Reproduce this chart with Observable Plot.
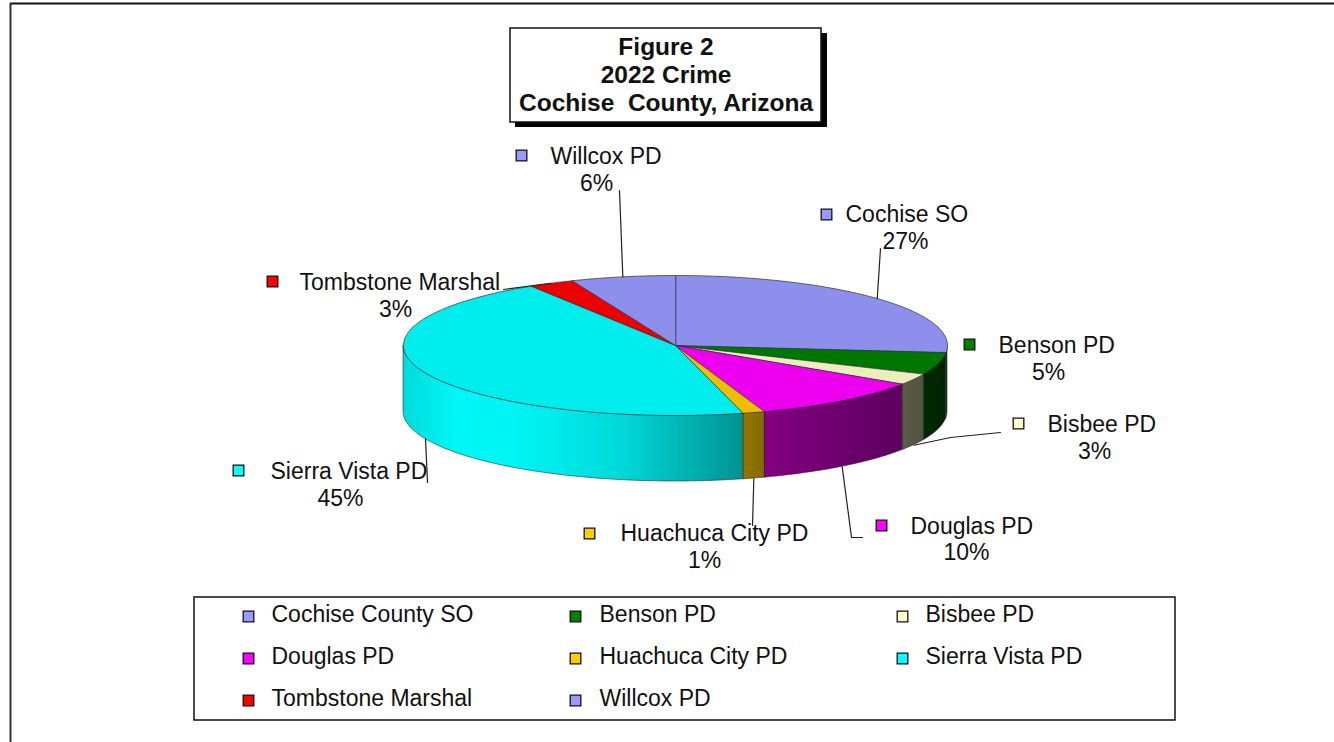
<!DOCTYPE html>
<html>
<head>
<meta charset="utf-8">
<style>html,body{margin:0;padding:0;background:#fff;overflow:hidden}svg{display:block}</style>
<script src="https://cdn.jsdelivr.net/npm/d3@7"></script>
<script src="https://cdn.jsdelivr.net/npm/@observablehq/plot@0.6"></script>
</head>
<body>
<div id="chart"></div>
<script>
// ---- data ----
const titleLines = ["Figure 2", "2022 Crime", "Cochise  County, Arizona"];
const sliceLabels = ["Cochise SO", "Benson PD", "Bisbee PD", "Douglas PD", "Huachuca City PD", "Sierra Vista PD", "Tombstone Marshal", "Willcox PD"];
const legendLabels = ["Cochise County SO", "Benson PD", "Bisbee PD", "Douglas PD", "Huachuca City PD", "Sierra Vista PD", "Tombstone Marshal", "Willcox PD"];
// shares estimated from the slice boundaries; the printed labels are these, rounded
const shares = [26.6, 5.1, 2.6, 10.4, 1.3, 45.1, 2.7, 6.2];
const colors = ["#9999ff", "#008000", "#ffffcc", "#ff00ff", "#ffcc00", "#00ffff", "#ff0000", "#9999ff"];

// ---- layout (pixels) ----
const W = 1334, H = 742;
const pie = {cx: 675, cy: 345, rx: 272, ry: 70, depth: 66};
const font = "Liberation Sans, Arial, sans-serif";
const labelFont = 23, ink = "#111";
const labelPos = [
  {sx: 826, sy: 214, tx: 845, ty: 214, px: 905, py: 241, knees: [[880, 248]]},
  {sx: 969, sy: 344, tx: 998, ty: 345, px: 1048, py: 372, knees: null},
  {sx: 1018, sy: 423, tx: 1047, ty: 424, px: 1094, py: 451, knees: [[1000, 432], [950, 437]]},
  {sx: 881, sy: 525, tx: 910, ty: 526, px: 966, py: 552, knees: [[862, 537], [851, 537]]},
  {sx: 589, sy: 533, tx: 620, ty: 533, px: 704, py: 560, knees: [[752, 525]]},
  {sx: 238, sy: 470, tx: 270, ty: 471, px: 340, py: 498, knees: [[427, 482]]},
  {sx: 272, sy: 281, tx: 299, ty: 282, px: 395, py: 309, knees: [[503, 289]]},
  {sx: 521, sy: 155, tx: 550, ty: 156, px: 596, py: 183, knees: [[619, 190]]}
];

// ---- geometry derived from the shares ----
const total = d3.sum(shares);
const rim = (deg) => {
  const a = deg * Math.PI / 180;
  return {x: pie.cx + pie.rx * Math.sin(a), y: pie.cy - pie.ry * Math.cos(a)};
};
const arcPts = (a0, a1) => {
  const n = Math.max(2, Math.ceil(a1 - a0) + 1);
  return d3.range(n).map(i => rim(a0 + (a1 - a0) * i / (n - 1)));
};
let acc = 0;
const slices = shares.map((v, i) => {
  const a0 = acc / total * 360; acc += v; const a1 = acc / total * 360;
  return {i, a0, a1, mid: (a0 + a1) / 2, color: colors[i]};
});
const scaleColor = (hex, k) => {
  const c = d3.rgb(hex);
  return d3.rgb(c.r * k, c.g * k, c.b * k).formatHex();
};
// brightness of the side wall, left to right
const sideStops = [[0, .86], [.1, .97], [.2, .96], [.4, .85], [.62, .58], [.67, .51], [.92, .36], [1, .27]];
const topShade = .93;

const topMarks = slices.map(s => {
  const pts = [{x: pie.cx, y: pie.cy}, ...arcPts(s.a0, s.a1)];
  return Plot.line(pts, {x: "x", y: "y", curve: "linear-closed", fill: scaleColor(s.color, topShade), stroke: "#2a2a3a", strokeWidth: .8, strokeOpacity: .85});
});
const sideMarks = slices.filter(s => s.a1 > 90 && s.a0 < 270).map(s => {
  const pts = arcPts(Math.max(s.a0, 90), Math.min(s.a1, 270)).map(p => ({...p, yb: p.y + pie.depth}));
  return Plot.area(pts, {x1: "x", y1: "y", y2: "yb", fill: `url(#side${s.i})`, stroke: "#222", strokeWidth: .7, strokeOpacity: .8});
});
const defsMark = () => {
  const defs = d3.create("svg:defs");
  slices.forEach(s => {
    const g = defs.append("linearGradient").attr("id", `side${s.i}`)
      .attr("gradientUnits", "userSpaceOnUse")
      .attr("x1", pie.cx - pie.rx).attr("x2", pie.cx + pie.rx).attr("y1", 0).attr("y2", 0);
    sideStops.forEach(([o, k]) => g.append("stop").attr("offset", o).attr("stop-color", scaleColor(s.color, k)));
  });
  return defs.node();
};

// leaders: start at the slice's mid-angle on the rim (lower rim if on the front wall)
const leaders = [];
slices.forEach((s, i) => {
  const kn = labelPos[i].knees;
  if (!kn) return;
  const r = rim(s.mid);
  const front = s.mid > 90 && s.mid < 270;
  const end = {x: r.x, y: r.y + (front ? pie.depth : 0), z: i};
  kn.forEach(([x, y]) => leaders.push({x, y, z: i}));
  leaders.push(end);
});

const labelRows = slices.map((s, i) => ({...labelPos[i], name: sliceLabels[i], pct: `${Math.round(shares[i])}%`, color: colors[i]}));
const legendRows = legendLabels.map((name, i) => ({
  name, color: colors[i],
  sx: [248, 575, 902][i % 3], tx: [271, 599, 925][i % 3],
  y: [616, 658, 700][Math.floor(i / 3)],
  ty: [614.5, 656.5, 698.5][Math.floor(i / 3)]
}));
const titleRows = titleLines.map((t, i) => ({t, y: 47 + 28 * i}));

const box = (x1, y1, x2, y2, o) => Plot.rect([0], {x1, y1, x2, y2, ...o});

const plot = Plot.plot({
  width: W, height: H, margin: 0,
  x: {domain: [0, W], range: [0, W], axis: null},
  y: {domain: [0, H], range: [0, H], axis: null},
  style: {background: "#fff"},
  marks: [
    defsMark,
    // page frame
    Plot.ruleY([3], {x1: 10, x2: W, stroke: "#111", strokeWidth: 2}),
    Plot.ruleX([10], {y1: 3, y2: H, stroke: "#333", strokeWidth: 2}),
    // title box
    box(515, 33, 827, 127, {fill: "#000"}),
    box(510, 28, 821, 122, {fill: "#fff", stroke: "#111", strokeWidth: 1.5}),
    Plot.text(titleRows, {x: 665.5, y: "y", text: "t", fontFamily: font, fontSize: 24.5, fontWeight: "bold", fill: ink, textAnchor: "middle", lineAnchor: "middle"}),
    // pie
    ...sideMarks,
    ...topMarks,
    // leaders
    Plot.line(leaders, {x: "x", y: "y", z: "z", stroke: "#222", strokeWidth: 1.2}),
    // slice labels
    Plot.dot(labelRows, {x: "sx", y: "sy", symbol: "square", r: 6, fill: "color", stroke: "#111", strokeWidth: 1.3}),
    Plot.text(labelRows, {x: "tx", y: "ty", text: "name", fontFamily: font, fontSize: labelFont, fill: ink, textAnchor: "start", lineAnchor: "middle"}),
    Plot.text(labelRows, {x: "px", y: "py", text: "pct", fontFamily: font, fontSize: labelFont, fill: ink, textAnchor: "middle", lineAnchor: "middle"}),
    // legend
    box(194, 597, 1175, 720, {fill: "none", stroke: "#111", strokeWidth: 1.5}),
    Plot.dot(legendRows, {x: "sx", y: "y", symbol: "square", r: 6, fill: "color", stroke: "#111", strokeWidth: 1.3}),
    Plot.text(legendRows, {x: "tx", y: "ty", text: "name", fontFamily: font, fontSize: labelFont, fill: ink, textAnchor: "start", lineAnchor: "middle"})
  ]
});
document.getElementById("chart").append(plot);
</script>
</body>
</html>
